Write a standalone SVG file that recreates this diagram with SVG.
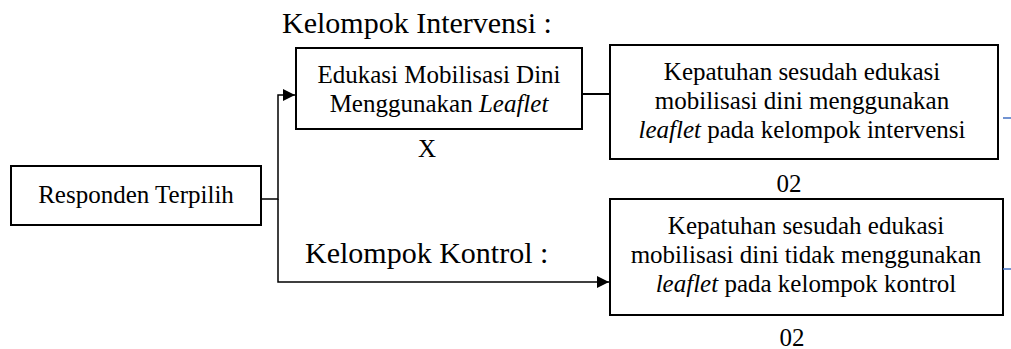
<svg xmlns="http://www.w3.org/2000/svg" width="1011" height="349" viewBox="0 0 1011 349">
<style>
text{font-family:"Liberation Serif","Times New Roman",serif;fill:#000}
.t{font-size:25px;text-anchor:middle}
.h{font-size:30px}
.box{fill:#fff;stroke:#000;stroke-width:2}
.c{fill:none;stroke:#000;stroke-width:1.5}
.i{font-style:italic}
</style>
<defs>
<marker id="ah" viewBox="0 0 10 10" refX="10" refY="5" markerWidth="15" markerHeight="12" markerUnits="userSpaceOnUse" orient="auto">
<path d="M0,0 L10,5 L0,10 Z" fill="#000"/>
</marker>
</defs>
<g id="connectors">
<path class="c" d="M261,199 H278 V95 H295" marker-end="url(#ah)"/>
<path class="c" d="M278,199 V282 H609" marker-end="url(#ah)"/>
<path class="c" d="M582,94 H610" style="stroke-width:2"/>
</g>
<g id="label-intervensi"><text class="h" x="282" y="33">Kelompok Intervensi :</text></g>
<g id="label-kontrol"><text class="h" x="305" y="263">Kelompok Kontrol :</text></g>
<g id="responden">
<rect class="box" x="11" y="166" width="250" height="59"/>
<text class="t" x="136" y="203">Responden Terpilih</text>
</g>
<g id="edukasi">
<rect class="box" x="296" y="48" width="286" height="81"/>
<text class="t" x="439" y="83">Edukasi Mobilisasi Dini</text>
<text class="t" x="439" y="112">Menggunakan <tspan class="i">Leaflet</tspan></text>
</g>
<g id="label-x"><text class="t" x="427" y="157">X</text></g>
<g id="kepatuhan-intervensi">
<rect class="box" x="610" y="45" width="388" height="114"/>
<text class="t" x="802" y="80">Kepatuhan sesudah edukasi</text>
<text class="t" x="802" y="109">mobilisasi dini menggunakan</text>
<text class="t" x="802" y="138"><tspan class="i">leaflet</tspan> pada kelompok intervensi</text>
</g>
<g id="label-02a"><text class="t" x="789" y="192">02</text></g>
<g id="kepatuhan-kontrol">
<rect class="box" x="610" y="199" width="393" height="116"/>
<text class="t" x="806" y="234">Kepatuhan sesudah edukasi</text>
<text class="t" x="806" y="263">mobilisasi dini tidak menggunakan</text>
<text class="t" x="806" y="292"><tspan class="i">leaflet</tspan> pada kelompok kontrol</text>
</g>
<g id="label-02b"><text class="t" x="792" y="346">02</text></g>
<g id="blue-marks">
<path d="M1003,118 H1011 M1003,269 H1011" stroke="#4472C4" stroke-width="1.5" fill="none"/>
</g>
</svg>
